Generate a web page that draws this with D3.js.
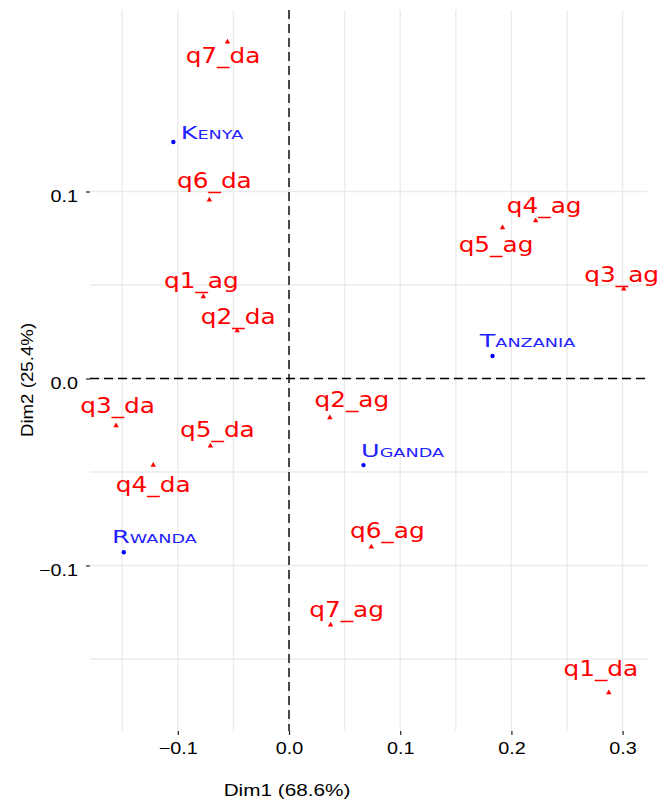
<!DOCTYPE html>
<html>
<head>
<meta charset="utf-8">
<script src="https://cdn.jsdelivr.net/npm/d3@7"></script>
<style>
  body { margin: 0; background: #fff; }
  svg { display: block; }
</style>
</head>
<body>
<div id="chart"></div>
<script>
// CA biplot, dims 1 & 2
var dimPct = [68.6, 25.4];

var rowNames = ["Kenya", "Tanzania", "Uganda", "Rwanda"];
var rowDim1 = [-0.104, 0.183, 0.067, -0.1486];
var rowDim2 = [0.1265, 0.012, -0.0463, -0.0929];

var colNames = ["q1_ag", "q2_ag", "q3_ag", "q4_ag", "q5_ag", "q6_ag", "q7_ag",
                "q1_da", "q2_da", "q3_da", "q4_da", "q5_da", "q6_da", "q7_da"];
var colDim1 = [-0.077, 0.0367, 0.301, 0.2218, 0.192, 0.074, 0.0374,
               0.2876, -0.0466, -0.1555, -0.1221, -0.0707, -0.0716, -0.0553];
var colDim2 = [0.0437, -0.021, 0.0479, 0.0844, 0.0806, -0.090, -0.1318,
               -0.168, 0.0256, -0.0252, -0.0463, -0.0361, 0.0955, 0.180];

var xTicks = [-0.1, 0, 0.1, 0.2, 0.3];
var yTicks = [-0.1, 0, 0.1];
var xMinor = [-0.15, -0.05, 0.05, 0.15, 0.25];
var yMinor = [-0.15, -0.05, 0.05];

// label nudges (px), like ggrepel left them
var rowNudge = [[38.6, -3], [35, -9], [39, -8], [30.7, -9.6]];
var colNudge = [[-2, -9], [22, -11], [-2, -7], [8.5, -8], [-6.5, 24], [16, -9], [16, -8],
                [-8, -17], [1, -7], [1.5, -13], [0, 27], [7, -9], [5, -12], [-4.5, 21]];

var width = 660, height = 800;
var panel = { left: 90, right: 647, top: 10, bottom: 731 };

var x = d3.scaleLinear().domain([-0.17897, 0.32194]).range([panel.left, panel.right]);
var y = d3.scaleLinear().domain([-0.1885, 0.19706]).range([panel.bottom, panel.top]);

var svg = d3.select("#chart").append("svg")
  .attr("width", width).attr("height", height);

var sansFont = "'Liberation Sans', Arial, sans-serif";
var labelFont = "'DejaVu Sans', sans-serif";
var gridCol = "#ebebeb";

// grid
var grid = svg.append("g");
grid.selectAll(".vx").data(xTicks.concat(xMinor)).enter().append("line")
  .attr("x1", function (d) { return x(d); }).attr("x2", function (d) { return x(d); })
  .attr("y1", panel.top).attr("y2", panel.bottom)
  .attr("stroke", gridCol).attr("stroke-width", 1.4);
grid.selectAll(".hy").data(yTicks.concat(yMinor)).enter().append("line")
  .attr("y1", function (d) { return y(d); }).attr("y2", function (d) { return y(d); })
  .attr("x1", panel.left).attr("x2", panel.right)
  .attr("stroke", gridCol).attr("stroke-width", 1.4);

// zero lines
svg.append("line")
  .attr("x1", panel.left).attr("x2", panel.right)
  .attr("y1", y(0)).attr("y2", y(0))
  .attr("stroke", "#000").attr("stroke-width", 1.4).attr("stroke-dasharray", "9,5");
svg.append("line")
  .attr("x1", x(0)).attr("x2", x(0))
  .attr("y1", panel.top).attr("y2", panel.bottom)
  .attr("stroke", "#000").attr("stroke-width", 1.4).attr("stroke-dasharray", "9,5");

// axes
var fmt = d3.format(".1f");
var xAxis = svg.append("g")
  .attr("transform", "translate(0," + panel.bottom + ")")
  .call(d3.axisBottom(x).tickValues(xTicks).tickSize(4).tickFormat(fmt));
var yAxis = svg.append("g")
  .attr("transform", "translate(" + panel.left + ",0)")
  .call(d3.axisLeft(y).tickValues(yTicks).tickSize(4).tickFormat(fmt));

[xAxis, yAxis].forEach(function (ax) {
  ax.select(".domain").remove();
  ax.selectAll(".tick line").attr("stroke", "#222").attr("stroke-width", 1.2);
  ax.selectAll(".tick text")
    .attr("fill", "#000")
    .style("font-family", sansFont)
    .style("font-size", "16.5px")
    .attr("x", 0).attr("y", null).attr("dy", null);
});
xAxis.selectAll(".tick text").attr("transform", "translate(0,23) scale(1.2,1)");
yAxis.selectAll(".tick text").attr("transform", "translate(-12,9.5) scale(1.2,1)");

// axis titles
svg.append("text")
  .attr("transform", "translate(287,796) scale(1.22,1)")
  .attr("text-anchor", "middle")
  .style("font-family", sansFont).style("font-size", "17px")
  .attr("fill", "#000")
  .text("Dim1 (" + dimPct[0] + "%)");
svg.append("text")
  .attr("transform", "translate(33,380) rotate(-90) scale(1.1,1)")
  .attr("text-anchor", "middle")
  .style("font-family", sansFont).style("font-size", "17px")
  .attr("fill", "#000")
  .text("Dim2 (" + dimPct[1] + "%)");

// column points (red triangles) + labels
var cols = colNames.map(function (n, i) {
  return { name: n, d1: colDim1[i], d2: colDim2[i], nudge: colNudge[i] };
});
var rows = rowNames.map(function (n, i) {
  return { name: n, d1: rowDim1[i], d2: rowDim2[i], nudge: rowNudge[i] };
});

svg.append("g").selectAll("path").data(cols).enter().append("path")
  .attr("d", d3.symbol(d3.symbolTriangle, 13))
  .attr("transform", function (d) { return "translate(" + x(d.d1) + "," + y(d.d2) + ")"; })
  .attr("fill", "red");

svg.append("g").selectAll("text").data(cols).enter().append("text")
  .attr("transform", function (d) {
    return "translate(" + (x(d.d1) + d.nudge[0]) + "," + (y(d.d2) + d.nudge[1]) + ") scale(1.18,1)";
  })
  .attr("text-anchor", "middle")
  .style("font-family", labelFont).style("font-size", "21px")
  .attr("fill", "red")
  .text(function (d) { return d.name; });

// row points (blue) + labels
svg.append("g").selectAll("circle").data(rows).enter().append("circle")
  .attr("cx", function (d) { return x(d.d1); })
  .attr("cy", function (d) { return y(d.d2); })
  .attr("r", 2.2)
  .attr("fill", "blue");

svg.append("g").selectAll("text").data(rows).enter().append("text")
  .attr("transform", function (d) {
    return "translate(" + (x(d.d1) + d.nudge[0]) + "," + (y(d.d2) + d.nudge[1]) + ") scale(1.5,1)";
  })
  .attr("text-anchor", "middle")
  .style("font-family", labelFont).style("font-size", "17px")
  .style("font-variant", "small-caps")
  .attr("fill", "#2222ff")
  .text(function (d) { return d.name; });
</script>
</body>
</html>
